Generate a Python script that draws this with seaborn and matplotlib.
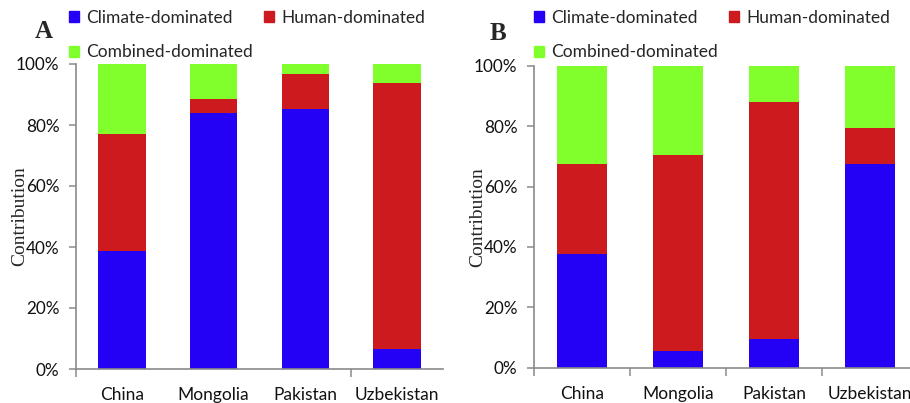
import matplotlib
matplotlib.use("Agg")
import matplotlib.pyplot as plt
import matplotlib.patches as mpatches
from matplotlib.ticker import FuncFormatter, FixedLocator
import numpy as np
import pandas as pd
import seaborn as sns

# Contribution shares (%) per country
countries = ["China", "Mongolia", "Pakistan", "Uzbekistan"]

climate_a = [38.7, 83.9, 85.2, 6.5]
human_a = [38.3, 4.7, 11.6, 87.3]
combined_a = [23.0, 11.4, 3.2, 6.2]

climate_b = [37.6, 5.5, 9.4, 67.5]
human_b = [29.9, 64.8, 78.7, 11.8]
combined_b = [32.5, 29.7, 11.9, 20.7]

series_names = ["Climate-dominated", "Human-dominated", "Combined-dominated"]
colors = {"Climate-dominated": "#2400F5",
          "Human-dominated": "#CC1A1E",
          "Combined-dominated": "#80FF2C"}

sns.set_theme(style="white")
sans = ["Lato", "DejaVu Sans"]
serif = ["Liberation Serif", "DejaVu Serif"]
plt.rcParams["font.family"] = sans

fig = plt.figure(figsize=(9.10, 4.03), dpi=100)
ax_a = fig.add_axes([76 / 910, 34 / 403, (443 - 76) / 910, (369 - 64) / 403])
ax_b = fig.add_axes([534 / 910, 35.3 / 403, (918 - 534) / 910, (367.7 - 65.7) / 403])


def stacked(ax, climate, human, combined, boundary_ticks):
    df = pd.DataFrame({"country": countries,
                       "Climate-dominated": climate,
                       "Human-dominated": human,
                       "Combined-dominated": combined})
    cum = df[series_names].cumsum(axis=1)
    # draw the tallest cumulative layer first so lower layers sit on top
    for name in reversed(series_names):
        sns.barplot(data=cum.assign(country=df["country"]), x="country", y=name,
                    color=colors[name], saturation=1, width=0.52, ax=ax,
                    edgecolor="none", linewidth=0)
    ax.set_ylim(0, 100)
    ax.set_xlim(-0.5, 3.5)
    ax.yaxis.set_major_locator(FixedLocator([0, 20, 40, 60, 80, 100]))
    ax.yaxis.set_major_formatter(FuncFormatter(lambda v, p: f"{v:.0f}%"))
    ax.set_xlabel("")
    ax.set_ylabel("Contribution", family=serif, fontsize=14, labelpad=-9)
    for s in ["top", "right"]:
        ax.spines[s].set_visible(False)
    for s in ["left", "bottom"]:
        ax.spines[s].set_color("#8a8a8a")
        ax.spines[s].set_linewidth(1.2)
    ax.tick_params(axis="y", which="major", left=True, length=5, width=1.1,
                   color="#8a8a8a", labelsize=12.3, pad=7, labelcolor="#111111")
    ax.tick_params(axis="x", which="major", bottom=False, labelsize=12.5,
                   pad=7, labelcolor="#111111")
    ax.set_xticks(range(len(countries)))
    ax.set_xticklabels(countries)
    ax.set_xticks(boundary_ticks, minor=True)
    ax.tick_params(axis="x", which="minor", bottom=True, length=6, width=1.1,
                   color="#8a8a8a")
    ax.grid(False)


stacked(ax_a, climate_a, human_a, combined_a, [-0.5, 2.5])
stacked(ax_b, climate_b, human_b, combined_b, [-0.5, 0.5, 1.5, 2.5])

handles = [mpatches.Patch(color=colors["Climate-dominated"], label="Climate-dominated"),
           mpatches.Patch(color=colors["Combined-dominated"], label="Combined-dominated"),
           mpatches.Patch(color=colors["Human-dominated"], label="Human-dominated")]

for x0, letter, lx, ly in [(69, "A", 44, 31), (534, "B", 498, 34)]:
    fig.legend(handles=handles, loc="upper left",
               bbox_to_anchor=(x0 / 910, 1 - 10 / 403), ncol=2, frameon=False,
               fontsize=12.5, handlelength=0.6, handleheight=0.6,
               handletextpad=0.4, labelspacing=1.05, columnspacing=0.6,
               borderpad=0, borderaxespad=0)
    fig.text(lx / 910, 1 - ly / 403, letter, family=serif, fontweight="bold",
             fontsize=18, ha="center", va="center")

fig.savefig("out.png", dpi=100)
